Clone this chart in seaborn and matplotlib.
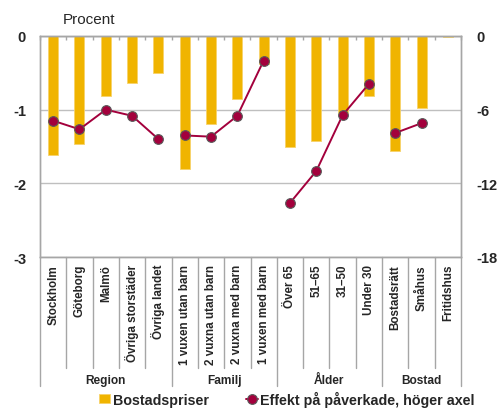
import numpy as np
import pandas as pd
import matplotlib
matplotlib.use("Agg")
import matplotlib.pyplot as plt
import seaborn as sns

# Categories and their groups
kategorier = ["Stockholm", "Göteborg", "Malmö", "Övriga storstäder", "Övriga landet",
              "1 vuxen utan barn", "2 vuxna utan barn", "2 vuxna med barn", "1 vuxen med barn",
              "Över 65", "51–65", "31–50", "Under 30",
              "Bostadsrätt", "Småhus", "Fritidshus"]
grupper = ["Region"] * 5 + ["Familj"] * 4 + ["Ålder"] * 4 + ["Bostad"] * 3

# Change in housing prices (percent, left axis)
bostadspriser = [-1.62, -1.46, -0.82, -0.64, -0.50,
                 -1.81, -1.19, -0.86, -0.38,
                 -1.50, -1.42, -1.05, -0.82,
                 -1.56, -0.98, -0.02]
# Effect on affected households (percent, right axis)
effekt = [-6.9, -7.6, -6.0, -6.5, -8.4,
          -8.1, -8.2, -6.5, -2.0,
          -13.6, -11.0, -6.45, -3.9,
          -7.9, -7.1, np.nan]

df = pd.DataFrame({"kategori": kategorier, "grupp": grupper,
                   "pris": bostadspriser, "effekt": effekt})
df["pos"] = np.arange(len(df))

sns.set_style("white")
plt.rcParams["font.family"] = ["Liberation Sans", "DejaVu Sans"]

GULD = "#F0B400"
VIN = "#A3003C"
SPINE = "#A6A6A6"
GRID = "#BFBFBF"

fig = plt.figure(figsize=(5.03, 4.10), dpi=100)
ax = fig.add_axes([40 / 503, 1 - 258 / 410, 421 / 503, 221 / 410])

sns.barplot(data=df, x="kategori", y="pris", color=GULD, saturation=1,
            width=0.38, edgecolor="#F7D36A", linewidth=0.6, ax=ax,
            label="Bostadspriser")
if ax.get_legend() is not None:
    ax.get_legend().remove()
ax.set_xlim(-0.5, len(df) - 0.5)
ax.set_ylim(-3, 0)
ax.set_yticks([0, -1, -2, -3])
ax.set_yticklabels(["0", "-1", "-2", "-3"], fontweight="bold", fontsize=10.5)
ax.tick_params(axis="y", length=0, pad=10)
ax.set_xlabel("")
ax.set_ylabel("")
ax.set_axisbelow(True)
ax.yaxis.grid(True, color=GRID, linewidth=1)
ax.xaxis.grid(False)
for s in ax.spines.values():
    s.set_color(SPINE)
    s.set_linewidth(1)
ax.set_xticks(df["pos"])
ax.set_xticklabels(kategorier, rotation=90, fontweight="bold", fontsize=8.4,
                   va="top", ha="center")
ax.tick_params(axis="x", length=0, pad=5)

# Small tick marks on the zero line at category boundaries
top = ax.secondary_xaxis("top")
top.set_xticks(np.arange(-0.5, len(df), 1.0))
top.set_xticklabels([])
top.tick_params(direction="in", length=3, color=SPINE, width=1)
top.spines["top"].set_color(SPINE)

# Right axis: effect on affected households, one line per group
ax2 = ax.twinx()
for i, (g, sub) in enumerate(df.dropna(subset=["effekt"]).groupby("grupp", sort=False)):
    sns.lineplot(data=sub, x="pos", y="effekt", ax=ax2, color=VIN, linewidth=1.4,
                 marker="o", markersize=7, markeredgecolor="#5A5A5A",
                 markeredgewidth=0.8, errorbar=None,
                 label="Effekt på påverkade, höger axel" if i == 0 else None)
ax2.set_ylim(-18, 0)
ax2.set_yticks([0, -6, -12, -18])
ax2.set_yticklabels(["0", "-6", "-12", "-18"], fontweight="bold", fontsize=10.5)
ax2.tick_params(axis="y", length=0, pad=11)
ax2.set_ylabel("")
ax2.set_xlabel("")
for s in ax2.spines.values():
    s.set_color(SPINE)
    s.set_linewidth(1)
if ax2.get_legend() is not None:
    ax2.get_legend().remove()

# Separators in the category label area and group names
trans = ax.get_xaxis_transform()
grans = [-0.5, 4.5, 8.5, 12.5, 15.5]
for b in np.arange(-0.5, len(df), 1.0):
    y_end = -0.584 if b in grans else -0.502
    ax.plot([b, b], [0, y_end], transform=trans, color=SPINE, linewidth=1,
            clip_on=False)
for a, b, namn in zip(grans[:-1], grans[1:], ["Region", "Familj", "Ålder", "Bostad"]):
    ax.text((a + b) / 2, -0.557, namn, transform=trans, ha="center", va="center",
            fontweight="bold", fontsize=8.6)

fig.text(63 / 503, 1 - 24 / 410, "Procent", fontsize=11, ha="left", va="baseline")

h1, l1 = ax.get_legend_handles_labels()
h2, l2 = ax2.get_legend_handles_labels()
fig.legend(h1 + h2, l1 + l2, loc="center", bbox_to_anchor=(0.57, 0.025), ncol=2,
           frameon=False, handlelength=0.8, handleheight=0.6, handletextpad=0.2,
           columnspacing=2.6, prop={"weight": "bold", "size": 10.3})

fig.savefig("out.png", dpi=100)
